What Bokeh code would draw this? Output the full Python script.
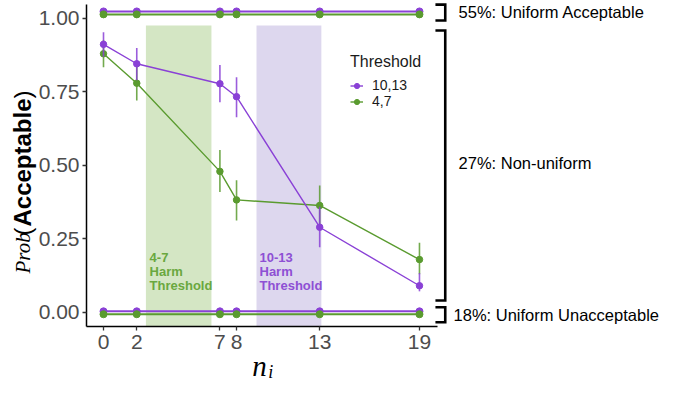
import math
from bokeh.plotting import figure
from bokeh.models import (Range1d, FixedTicker, NumeralTickFormatter,
                          Legend, LegendItem, ColumnDataSource)
from bokeh.core.properties import value
from bokeh.embed import file_html
from bokeh.resources import INLINE

# ---------------- data ----------------
n_i = [0, 2, 7, 8, 13, 19]
thr_10_13_mean = [0.912, 0.846, 0.778, 0.734, 0.290, 0.091]
thr_10_13_lo = [0.870, 0.790, 0.715, 0.664, 0.222, 0.072]
thr_10_13_hi = [0.953, 0.900, 0.842, 0.800, 0.360, 0.134]
thr_4_7_mean = [0.880, 0.780, 0.480, 0.383, 0.364, 0.180]
thr_4_7_lo = [0.834, 0.721, 0.410, 0.313, 0.300, 0.130]
thr_4_7_hi = [0.927, 0.840, 0.553, 0.450, 0.432, 0.237]

uniform_acc_10_13 = [1.024, 1.024, 1.024, 1.024, 1.024, 1.024]
uniform_acc_4_7 = [1.014, 1.014, 1.014, 1.014, 1.014, 1.014]
uniform_unacc_10_13 = [0.004, 0.004, 0.004, 0.004, 0.004, 0.004]
uniform_unacc_4_7 = [-0.006, -0.006, -0.006, -0.006, -0.006, -0.006]

band_4_7 = (2.55, 6.49)
band_10_13 = (9.2, 13.1)
band_top = 0.976

y_ticks = [0, 0.25, 0.5, 0.75, 1.0]
x_ticks = [0, 2, 7, 8, 13, 19]

groups = ["55%: Uniform Acceptable", "27%: Non-uniform", "18%: Uniform Unacceptable"]

PURPLE = "#8A41D6"
GREEN = "#5A9B2F"
SANS = "Liberation Sans"
SERIF = "Liberation Serif"

# panel limits (data units)
X_LO, X_HI = -1.022, 20.08
Y_LO, Y_HI = -0.0476, 1.0476

# ---------------- figure ----------------
W, H = 661, 385
p = figure(width=W, height=H, output_backend="svg", toolbar_location=None,
           x_range=Range1d(-6.194, 33.554), y_range=Range1d(-0.2483, 1.0612),
           min_border=0, min_border_left=0, min_border_right=0,
           min_border_top=0, min_border_bottom=0)
p.outline_line_color = None
p.xgrid.visible = False
p.ygrid.visible = False
p.background_fill_color = "white"
p.border_fill_color = "white"

for ax in (p.xaxis[0], p.yaxis[0]):
    ax.axis_line_color = "black"
    ax.axis_line_width = 1.5
    ax.major_tick_line_color = "#333333"
    ax.major_tick_line_width = 1.3
    ax.major_tick_out = 4
    ax.major_tick_in = 0
    ax.minor_tick_line_color = None
    ax.major_label_text_font = SANS
    ax.major_label_text_font_size = "21px"
    ax.major_label_text_color = "#4D4D4D"

p.xaxis[0].ticker = FixedTicker(ticks=x_ticks)
p.xaxis[0].bounds = (X_LO, X_HI)
p.xaxis[0].fixed_location = Y_LO
p.xaxis[0].major_label_standoff = 5
p.yaxis[0].ticker = FixedTicker(ticks=y_ticks)
p.yaxis[0].formatter = NumeralTickFormatter(format="0.00")
p.yaxis[0].bounds = (Y_LO, Y_HI)
p.yaxis[0].fixed_location = X_LO
p.yaxis[0].major_label_standoff = 3

# harm threshold bands
p.quad(left=[band_4_7[0]], right=[band_4_7[1]], bottom=[Y_LO], top=[band_top],
       fill_color="#D4E6C4", line_color=None)
p.quad(left=[band_10_13[0]], right=[band_10_13[1]], bottom=[Y_LO], top=[band_top],
       fill_color="#DDD7EE", line_color=None)

p.text(x=[2.77], y=[0.2126], text=["4-7\nHarm\nThreshold"], text_color="#6AA83F",
       text_font=value(SANS), text_font_style="bold", text_font_size="13px",
       text_baseline="top", text_align="left", text_line_height=0.95)
p.text(x=[9.38], y=[0.2126], text=["10-13\nHarm\nThreshold"], text_color="#8E4FD4",
       text_font=value(SANS), text_font_style="bold", text_font_size="13px",
       text_baseline="top", text_align="left", text_line_height=0.95)

# uniform lines
for ys, c in ((uniform_acc_10_13, PURPLE), (uniform_acc_4_7, GREEN),
              (uniform_unacc_10_13, PURPLE), (uniform_unacc_4_7, GREEN)):
    p.line(n_i, ys, line_color=c, line_width=2)
    p.scatter(n_i, ys, size=7, fill_color=c, line_color=c)

# main series
src_g = ColumnDataSource(dict(x=n_i, m=thr_4_7_mean, lo=thr_4_7_lo, hi=thr_4_7_hi))
src_p = ColumnDataSource(dict(x=n_i, m=thr_10_13_mean, lo=thr_10_13_lo, hi=thr_10_13_hi))

p.segment(x0="x", y0="lo", x1="x", y1="hi", source=src_g, line_color=GREEN, line_width=1.6, line_alpha=0.85)
gl = p.line("x", "m", source=src_g, line_color=GREEN, line_width=1.4)
gs = p.scatter("x", "m", source=src_g, size=6.5, fill_color=GREEN, line_color=GREEN)

p.segment(x0="x", y0="lo", x1="x", y1="hi", source=src_p, line_color=PURPLE, line_width=1.6, line_alpha=0.85)
pl = p.line("x", "m", source=src_p, line_color=PURPLE, line_width=1.4)
ps = p.scatter("x", "m", source=src_p, size=6.5, fill_color=PURPLE, line_color=PURPLE)

# legend key background (no data)
kb = p.quad(left=[], right=[], bottom=[], top=[], fill_color="#EDEDED", line_color=None)

legend = Legend(items=[LegendItem(label="10,13", renderers=[kb, pl, ps]),
                       LegendItem(label="4,7", renderers=[kb, gl, gs])],
                location=(350, 276), title="Threshold",
                title_text_font=SANS, title_text_font_size="16px", title_text_color="#1A1A1A",
                title_text_font_style="normal", title_standoff=6,
                label_text_font=SANS, label_text_font_size="14px", label_text_color="#1A1A1A",
                label_text_line_height=1.0,
                glyph_width=13, glyph_height=15, label_standoff=9, label_height=15,
                spacing=0, padding=0, margin=0,
                background_fill_alpha=0, border_line_alpha=0)
p.add_layout(legend)

# brackets on the right
BRK_X0 = 19.96
BRK_X1 = 20.55
bracket_spans = [(1.047, 0.993), (0.959, 0.041), (0.018, -0.033)]
for top, bot in bracket_spans:
    p.line([BRK_X0, BRK_X1, BRK_X1, BRK_X0], [top, top, bot, bot],
           line_color="black", line_width=2.6, line_join="miter")

label_x = [21.35, 21.35, 21.05]
label_y = [1.0204, 0.510, -0.010]
p.text(x=label_x, y=label_y, text=groups, text_font=value(SANS), text_font_size="16.5px",
       text_color="black", text_baseline="middle", text_align="left")

# y axis title: Prob(Acceptable) -- pieces in different styles, rotated
ylab_x = -4.87
ylab_parts = [("Prob", 0.1327, SERIF, "italic", "21px"),
              ("(", 0.262, SANS, "normal", "24px"),
              ("Acceptable", 0.2925, SANS, "bold", "24px"),
              (")", 0.728, SANS, "normal", "24px")]
for txt, y0, font, style, size in ylab_parts:
    p.text(x=[ylab_x], y=[y0], text=[txt], angle=math.pi / 2,
           text_font=value(font), text_font_style=style, text_font_size=size,
           text_color="black", text_align="left", text_baseline="alphabetic")

# x axis title: n_i
p.text(x=[8.94], y=[-0.1803], text=["n"], text_font=value(SERIF), text_font_style="italic",
       text_font_size="29px", text_color="black", text_align="left", text_baseline="alphabetic")
p.text(x=[9.90], y=[-0.2007], text=["i"], text_font=value(SERIF), text_font_style="italic",
       text_font_size="18px", text_color="black", text_align="left", text_baseline="alphabetic")

open("out.html", "w").write(file_html(p, INLINE))
